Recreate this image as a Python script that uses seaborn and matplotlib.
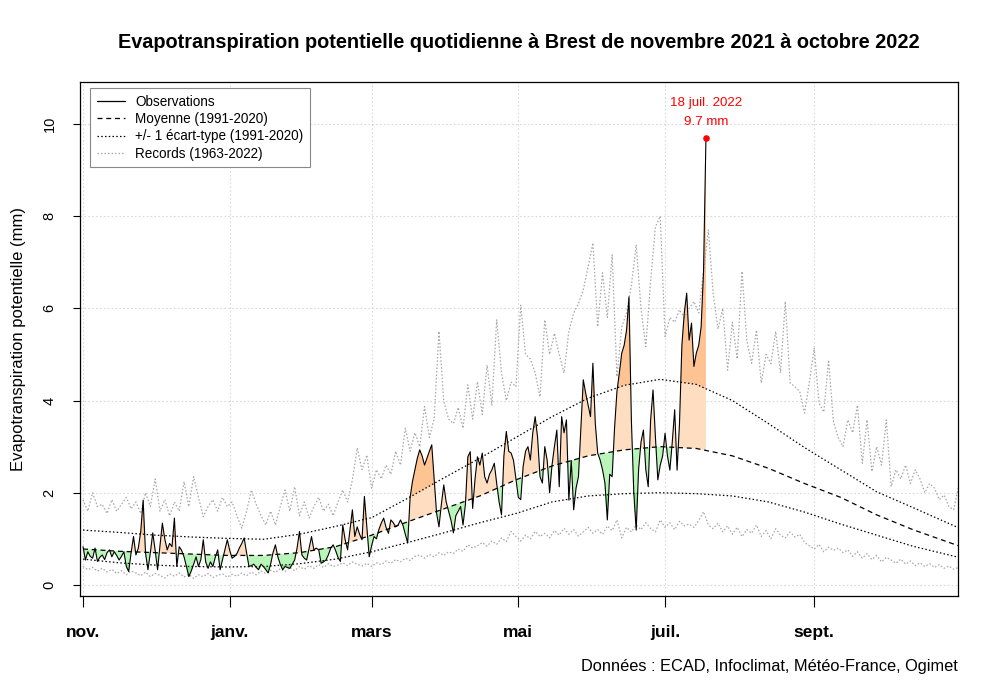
import numpy as np
import pandas as pd
import matplotlib
matplotlib.use("Agg")
import matplotlib.pyplot as plt
from matplotlib.lines import Line2D
import seaborn as sns

sns.set_theme(style="white")
plt.rcParams["font.family"] = ["Liberation Sans", "DejaVu Sans"]
plt.rcParams["text.color"] = "black"
plt.rcParams["axes.labelcolor"] = "black"
plt.rcParams["xtick.color"] = "black"
plt.rcParams["ytick.color"] = "black"

# ---------------- data (day 0 = 1 Nov 2021) ----------------
obs = [
    0.83, 0.54, 0.72, 0.62, 0.58, 0.80, 0.51, 0.60, 0.65, 0.55,
    0.70, 0.76, 0.61, 0.72, 0.64, 0.54, 0.62, 0.72, 0.40, 0.29,
    0.70, 1.05, 0.65, 0.80, 1.16, 1.84, 0.69, 0.33, 0.70, 1.13,
    0.75, 0.33, 0.85, 1.34, 1.00, 0.76, 0.90, 0.83, 1.45, 0.40,
    0.83, 0.75, 0.61, 0.40, 0.18, 0.30, 0.45, 0.61, 0.40, 0.55,
    0.98, 0.50, 0.36, 0.50, 0.40, 0.60, 0.76, 0.33, 0.55, 0.76,
    0.98, 0.75, 0.58, 0.62, 0.68, 0.80, 0.90, 1.02, 0.70, 0.40,
    0.42, 0.45, 0.38, 0.33, 0.45, 0.40, 0.33, 0.26, 0.45, 0.70,
    0.87, 0.61, 0.45, 0.33, 0.40, 0.38, 0.36, 0.45, 0.54, 0.80,
    1.16, 0.65, 0.58, 0.54, 0.80, 1.05, 0.76, 0.80, 0.76, 0.47,
    0.50, 0.54, 0.65, 0.80, 0.87, 0.75, 0.60, 0.51, 1.30, 0.98,
    0.76, 1.20, 1.63, 1.05, 1.26, 1.10, 0.98, 1.92, 1.26, 0.61,
    0.85, 1.05, 1.00, 1.20, 1.34, 1.45, 1.25, 1.12, 1.41, 1.35,
    1.26, 1.30, 1.41, 1.30, 1.10, 0.91, 1.90, 2.25, 2.50, 2.75,
    2.93, 2.80, 2.60, 2.75, 2.90, 3.04, 2.30, 1.56, 1.26, 1.75,
    2.17, 1.80, 1.60, 1.40, 1.13, 1.50, 1.60, 1.70, 1.30, 1.75,
    2.78, 2.89, 1.66, 2.30, 2.78, 2.60, 2.86, 2.35, 2.21, 2.40,
    2.50, 2.64, 2.20, 1.80, 1.52, 2.80, 3.33, 2.90, 2.86, 2.70,
    2.30, 1.90, 1.85, 2.57, 2.90, 3.00, 2.71, 3.30, 3.65, 3.20,
    2.35, 2.21, 3.00, 2.70, 2.00, 2.60, 3.00, 3.36, 2.13, 3.65,
    3.30, 3.58, 1.84, 2.70, 1.63, 2.10, 2.35, 3.40, 4.45, 4.16,
    3.90, 3.65, 4.81, 3.50, 2.86, 2.71, 2.50, 2.21, 1.41, 2.40,
    2.35, 3.40, 4.20, 4.60, 5.03, 5.20, 5.53, 6.25, 3.58, 2.00,
    1.19, 2.50, 3.10, 3.36, 2.50, 2.13, 3.58, 4.23, 3.20, 2.28,
    2.60, 2.80, 3.29, 2.80, 2.49, 3.10, 3.80, 2.49, 3.50, 5.20,
    5.90, 6.33, 5.31, 5.68, 4.74, 5.03, 5.20, 5.60, 6.80, 9.70,
]

clim_days = [0, 15, 30, 45, 60, 75, 90, 105, 120, 135, 150, 165, 180,
             195, 210, 225, 240, 255, 270, 285, 300, 315, 330, 345, 364]
mean_clim = [0.78, 0.73, 0.70, 0.67, 0.64, 0.64, 0.70, 0.83, 1.08, 1.37, 1.65, 1.93, 2.28,
             2.58, 2.80, 2.93, 3.00, 2.96, 2.80, 2.53, 2.20, 1.90, 1.52, 1.20, 0.85]
sd_high = [1.19, 1.14, 1.08, 1.04, 1.01, 0.99, 1.10, 1.27, 1.46, 1.88, 2.32, 2.75, 3.20,
           3.65, 4.05, 4.33, 4.46, 4.35, 4.00, 3.50, 2.98, 2.50, 2.02, 1.68, 1.24]
sd_low = [0.56, 0.48, 0.43, 0.40, 0.39, 0.40, 0.46, 0.56, 0.72, 0.92, 1.13, 1.35, 1.55,
          1.80, 1.93, 1.98, 2.00, 1.98, 1.93, 1.80, 1.58, 1.32, 1.08, 0.84, 0.60]

rec_days = list(range(0, 365, 2))
rec_max = [
    1.85, 1.60, 2.00, 1.70, 1.75, 1.55, 1.85, 1.60, 1.75, 1.90,
    1.65, 1.80, 1.55, 2.00, 1.70, 2.30, 1.60, 1.85, 1.50, 1.80,
    1.60, 2.24, 1.70, 2.35, 1.90, 1.48, 1.70, 1.85, 1.60, 1.90,
    1.70, 1.80, 1.50, 1.23, 1.60, 2.06, 1.75, 1.50, 1.30, 1.60,
    1.30, 1.70, 2.06, 1.60, 2.13, 1.50, 1.80, 1.45, 1.70, 1.90,
    1.60, 1.75, 1.50, 1.80, 2.06, 1.80, 2.28, 2.97, 2.50, 2.82,
    2.10, 2.50, 2.30, 2.60, 2.40, 2.90, 2.60, 3.40, 2.90, 3.30,
    3.00, 3.87, 3.20, 3.60, 5.50, 3.98, 3.60, 3.50, 3.85, 3.40,
    4.34, 3.60, 4.41, 3.70, 4.77, 3.90, 5.75, 4.60, 4.00, 4.40,
    4.30, 6.07, 5.00, 4.90, 4.60, 4.08, 5.75, 5.00, 5.46, 5.00,
    4.60, 5.50, 5.90, 6.10, 6.40, 6.90, 7.42, 5.60, 6.77, 5.80,
    7.16, 4.52, 5.60, 5.90, 6.50, 7.38, 6.00, 5.17, 6.60, 7.77,
    8.00, 5.39, 5.80, 5.70, 5.97, 5.80, 6.00, 6.15, 5.90, 6.80,
    7.70, 6.33, 5.55, 6.00, 4.66, 5.70, 4.90, 6.80, 5.30, 4.81,
    5.53, 4.38, 5.00, 4.80, 5.50, 4.60, 6.15, 4.38, 4.30, 4.20,
    3.73, 4.40, 5.14, 3.95, 3.75, 4.88, 3.54, 3.20, 3.00, 3.58,
    3.30, 3.90, 2.64, 3.58, 2.46, 3.00, 2.60, 3.58, 2.13, 2.50,
    2.30, 2.60, 2.20, 2.50, 2.30, 2.00, 2.20, 2.10, 1.85, 1.95,
    1.70, 1.63, 2.13,
]
rec_min = [
    0.40, 0.33, 0.38, 0.30, 0.36, 0.28, 0.34, 0.25, 0.31, 0.22, 0.30,
    0.26, 0.20, 0.28, 0.18, 0.25, 0.21, 0.15, 0.24, 0.19, 0.26,
    0.17, 0.23, 0.14, 0.22, 0.18, 0.25, 0.16, 0.21, 0.24, 0.17,
    0.23, 0.19, 0.26, 0.20, 0.28, 0.22, 0.30, 0.25, 0.32, 0.27,
    0.35, 0.29, 0.38, 0.31, 0.40, 0.34, 0.42, 0.36, 0.44, 0.38,
    0.46, 0.40, 0.43, 0.48, 0.42, 0.50, 0.45, 0.41, 0.47, 0.40,
    0.48, 0.44, 0.52, 0.47, 0.55, 0.50, 0.58, 0.53, 0.62, 0.65,
    0.58, 0.66, 0.61, 0.70, 0.64, 0.72, 0.68, 0.78, 0.73, 0.87,
    0.80, 0.85, 0.92, 0.84, 0.95, 0.88, 1.02, 0.94, 1.16, 1.05,
    0.95, 1.08, 1.00, 1.16, 1.05, 1.12, 1.02, 1.18, 1.08, 1.23,
    1.10, 1.20, 1.06, 1.15, 1.25, 1.12, 1.20, 1.10, 1.28, 1.18,
    1.41, 1.02, 1.25, 1.15, 1.30, 1.20, 1.35, 1.22, 1.15, 1.41,
    1.25, 1.35, 1.20, 1.38, 1.28, 1.32, 1.25, 1.40, 1.59, 1.30,
    1.22, 1.34, 1.15, 1.28, 1.10, 1.25, 1.05, 1.20, 1.12, 1.30,
    1.05, 1.18, 1.00, 1.22, 1.08, 1.02, 1.15, 1.04, 1.10, 0.92,
    0.85, 0.78, 0.88, 0.72, 0.82, 0.75, 0.80, 0.70, 0.76, 0.62,
    0.72, 0.58, 0.68, 0.55, 0.64, 0.50, 0.60, 0.54, 0.47, 0.56,
    0.45, 0.52, 0.42, 0.48, 0.40, 0.46, 0.38, 0.44, 0.36, 0.41, 0.34, 0.38,
]

month_ticks = [0, 61, 120, 181, 242, 304]
month_labels = ["nov.", "janv.", "mars", "mai", "juil.", "sept."]
y_ticks = [0, 2, 4, 6, 8, 10]
peak_label = ["18 juil. 2022", "9.7 mm"]

# ---------------- figure ----------------
fig = plt.figure(figsize=(10, 6.99), dpi=100)
ax = fig.add_axes([0.080, 1 - 596 / 699, 0.878, (596 - 82) / 699])
ax.set_facecolor("white")

days = np.arange(len(obs))
o = np.array(obs)
m = np.interp(days, clim_days, mean_clim)
hi = np.interp(days, clim_days, sd_high)
lo = np.interp(days, clim_days, sd_low)

c_or_light = "#FEDDC0"
c_or_dark = "#FDC393"
c_gr_light = "#B9F5B9"
c_gr_dark = "#86EA86"

ax.fill_between(days, m, o, where=o >= m, interpolate=True, color=c_or_light, lw=0, zorder=1)
ax.fill_between(days, hi, o, where=o >= hi, interpolate=True, color=c_or_dark, lw=0, zorder=1)
ax.fill_between(days, o, m, where=o <= m, interpolate=True, color=c_gr_light, lw=0, zorder=1)
ax.fill_between(days, o, lo, where=o <= lo, interpolate=True, color=c_gr_dark, lw=0, zorder=1)

df_rec = pd.DataFrame({"day": rec_days, "max": rec_max, "min": rec_min})
df_clim = pd.DataFrame({"day": clim_days, "mean": mean_clim, "hi": sd_high, "lo": sd_low})
df_obs = pd.DataFrame({"day": days, "obs": obs})

rec_style = dict(color="#A6A6A6", lw=0.9, linestyle=(0, (1.2, 1.6)), zorder=2)
sns.lineplot(data=df_rec, x="day", y="max", ax=ax, **rec_style)
sns.lineplot(data=df_rec, x="day", y="min", ax=ax, **rec_style)
sd_style = dict(color="black", lw=0.9, linestyle=(0, (1.2, 1.8)), zorder=3)
sns.lineplot(data=df_clim, x="day", y="hi", ax=ax, **sd_style)
sns.lineplot(data=df_clim, x="day", y="lo", ax=ax, **sd_style)
sns.lineplot(data=df_clim, x="day", y="mean", ax=ax, color="black", lw=0.9,
             linestyle=(0, (4, 3)), zorder=3)
sns.lineplot(data=df_obs, x="day", y="obs", ax=ax, color="black", lw=0.8, zorder=4)

# peak marker
ax.scatter([days[-1]], [obs[-1]], color="red", s=14, zorder=5)
ax.annotate(peak_label[1], xy=(days[-1], obs[-1]), xytext=(0, 11.5), textcoords="offset points",
            ha="center", va="center", color="red", fontsize=9.6)
ax.annotate(peak_label[0], xy=(days[-1], obs[-1]), xytext=(0, 25), textcoords="offset points",
            ha="center", va="center", color="red", fontsize=9.6)

ax.set_xlim(-1.25, 363.8)
ax.set_ylim(-0.24, 10.91)

ax.set_xticks(month_ticks)
ax.set_xticklabels(month_labels, fontsize=12.5, fontweight="bold")
ax.set_yticks(y_ticks)
ax.set_yticklabels([str(v) for v in y_ticks], rotation=90, va="center", fontsize=10.5)
ax.tick_params(axis="x", direction="out", length=8, width=0.8, pad=13, colors="black")
ax.tick_params(axis="y", direction="out", length=5, width=0.8, pad=12, colors="black")
ax.xaxis.set_ticks_position("bottom")
ax.yaxis.set_ticks_position("left")

ax.grid(True, color="#D9D9D9", linestyle=(0, (1.5, 2)), lw=0.8)
ax.set_axisbelow(True)
for s in ax.spines.values():
    s.set_visible(True)
    s.set_color("black")
    s.set_linewidth(0.9)

ax.set_xlabel("")
ax.set_ylabel("Evapotranspiration potentielle (mm)", fontsize=12, labelpad=12)

handles = [
    Line2D([], [], color="black", lw=0.9),
    Line2D([], [], color="black", lw=0.9, linestyle=(0, (4, 3))),
    Line2D([], [], color="black", lw=0.9, linestyle=(0, (1.2, 1.8))),
    Line2D([], [], color="#A6A6A6", lw=0.9, linestyle=(0, (1.2, 1.6))),
]
labels = ["Observations", "Moyenne (1991-2020)", "+/- 1 écart-type (1991-2020)", "Records (1963-2022)"]
leg = ax.legend(handles, labels, loc="upper left", bbox_to_anchor=(0.0114, 0.988),
                borderaxespad=0, fontsize=9.75, frameon=True, fancybox=False,
                edgecolor="#888888", framealpha=1, handlelength=2.1, handletextpad=0.75,
                labelspacing=0.24, borderpad=0.5)
leg.get_frame().set_linewidth(0.8)

fig.text(0.519, 1 - 43 / 699, "Evapotranspiration potentielle quotidienne à Brest de novembre 2021 à octobre 2022",
         ha="center", va="center", fontsize=14.3, fontweight="bold")
fig.text(0.958, 1 - 667 / 699, "Données : ECAD, Infoclimat, Météo-France, Ogimet",
         ha="right", va="center", fontsize=11.8)

fig.savefig("out.png", dpi=100, facecolor="white")
